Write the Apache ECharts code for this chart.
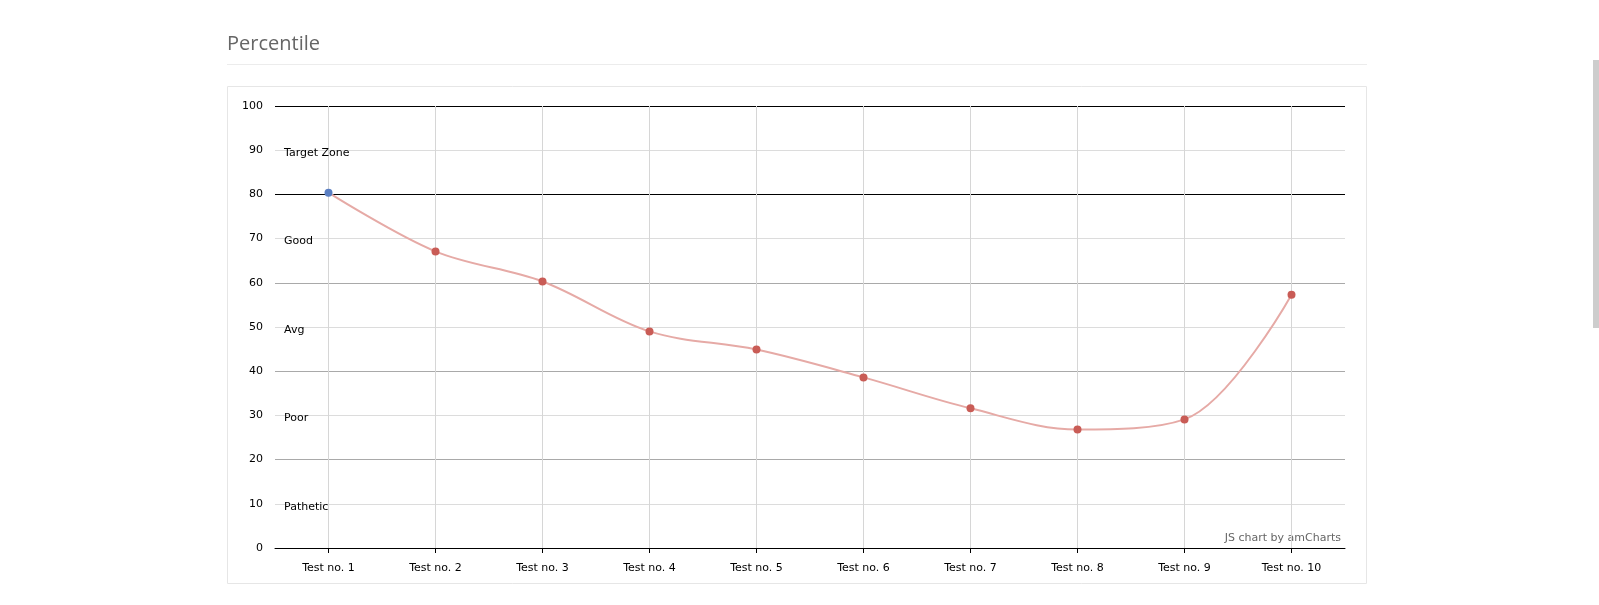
<!DOCTYPE html>
<html>
<head>
<meta charset="utf-8">
<script src="https://cdn.jsdelivr.net/npm/echarts@6/dist/echarts.min.js"></script>
<style>
html,body{margin:0;padding:0;background:#fff;overflow:hidden;}
#chart{position:absolute;left:0;top:0;width:1599px;height:605px;}
#scroll{position:absolute;left:1593px;top:60px;width:6px;height:268px;background:#cdcdcd;}
</style>
</head>
<body>
<div id="chart"></div>
<div id="scroll"></div>
<script>
const categories = ['Test no. 1','Test no. 2','Test no. 3','Test no. 4','Test no. 5','Test no. 6','Test no. 7','Test no. 8','Test no. 9','Test no. 10'];
const percentiles = [80.4, 67.1, 60.3, 49.0, 44.9, 38.6, 31.6, 26.8, 29.1, 57.3];
const zoneNames = ['Target Zone','Good','Avg','Poor','Pathetic'];
const zoneFrom = [80, 60, 40, 20, 0];
const zoneTo = [100, 80, 60, 40, 20];
const yTicks = [0,10,20,30,40,50,60,70,80,90,100];

const light = '#dcdcdc', mid = '#a9a9a9', dark = '#000000';
const splitColors = yTicks.map(v => (v === 80 || v === 100 || v === 0) ? dark : (v % 20 === 0 ? mid : light));

const chart = echarts.init(document.getElementById('chart'), null, {renderer:'canvas'});
const font = 'DejaVu Sans, Verdana, sans-serif';

chart.setOption({
  animation: false,
  textStyle: {fontFamily: font},
  graphic: [
    {type:'text', left:227, top:34, style:{text:'Percentile', font:'20px "Open Sans", sans-serif', fill:'#666'}},
    {type:'line', shape:{x1:227, y1:64.5, x2:1367, y2:64.5}, style:{stroke:'#ececec', lineWidth:1}},
    {type:'rect', shape:{x:227.5, y:86.5, width:1139, height:497}, style:{fill:'none', stroke:'#e6e6e6', lineWidth:1}, z:-1},
    {type:'text', right:1599-1341, top:533, style:{text:'JS chart by amCharts', font:'11px ' + font, fill:'#666'}}
  ],
  grid: {left:275, right:254, top:106, bottom:57, containLabel:false},
  xAxis: {
    type:'category', data:categories, boundaryGap:true,
    axisLine:{show:true, lineStyle:{color:'#000', width:1}},
    axisTick:{show:true, alignWithLabel:true, length:5, lineStyle:{color:'#000'}},
    axisLabel:{color:'#000', fontSize:11, margin:15, fontFamily:font},
    splitLine:{show:false}
  },
  yAxis: {
    type:'value', min:0, max:100, interval:10,
    axisLine:{show:false}, axisTick:{show:false},
    axisLabel:{color:'#000', fontSize:11, margin:12, fontFamily:font},
    splitLine:{show:true, showMinLine:true, showMaxLine:true, lineStyle:{color:splitColors, width:1}}
  },
  series: [{
    type:'line', smooth:0.35,
    data: percentiles.map((v,i) => i === 0 ? {value:v, itemStyle:{color:'#5b7fc2'}} : v),
    symbol:'circle', symbolSize:8, showSymbol:true,
    lineStyle:{color:'#e6aaa6', width:2},
    itemStyle:{color:'#c95c56'},
    z:5,
    markLine:{
      silent:true, symbol:'none', animation:false,
      label:{show:false},
      lineStyle:{color:'#d6d6d6', width:1, type:'solid'},
      z:1,
      data: categories.map(c => ({xAxis:c}))
    },
    markArea:{
      silent:true,
      itemStyle:{color:'rgba(0,0,0,0)'},
      label:{show:true, position:'insideLeft', distance:9, offset:[0,3], color:'#000', fontSize:11, fontFamily:font},
      data: zoneNames.map((n,i) => [{name:n, yAxis:zoneFrom[i]}, {yAxis:zoneTo[i]}])
    }
  }]
});
</script>
</body>
</html>
